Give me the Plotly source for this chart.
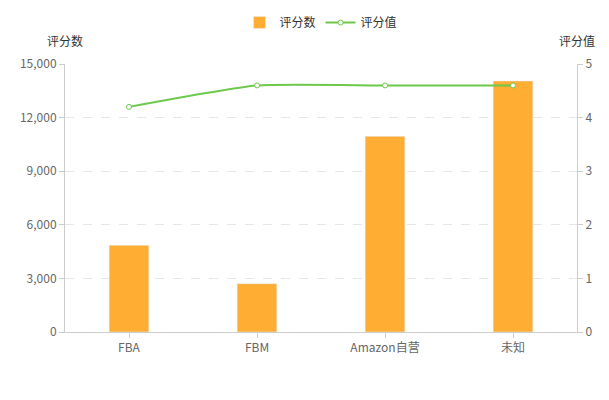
import plotly.graph_objects as go

categories = ["FBA", "FBM", "Amazon自营", "未知"]
counts = [4850, 2700, 10950, 14050]
scores = [4.2, 4.6, 4.6, 4.6]

fig = go.Figure()
fig.add_trace(go.Bar(x=categories, y=counts, name="评分数", marker_color="#ffad33", width=0.31))
fig.add_trace(go.Scatter(x=categories, y=scores, name="评分值", yaxis="y2", mode="lines+markers",
                         line=dict(color="#6dc84b", width=2, shape="spline", smoothing=0.5),
                         marker=dict(size=5, color="white", line=dict(color="#6dc84b", width=1))))
font = dict(family="Noto Sans CJK SC, Microsoft YaHei, sans-serif", size=12, color="#666")
fig.update_layout(
    width=609, height=400, margin=dict(l=57, r=40, t=56, b=76),
    plot_bgcolor="white", paper_bgcolor="white", font=font, bargap=0.5,
    showlegend=True,
    legend=dict(orientation="h", x=0.5, xanchor="center", y=1.0, yref="container", yanchor="top",
                font=dict(size=12, color="#333"), borderwidth=0, tracegroupgap=0,
                itemwidth=30, entrywidth=0),
    xaxis=dict(showline=True, linecolor="#ccc", ticks="outside", tickcolor="#ccc", showgrid=False),
    yaxis=dict(range=[0, 15000], tickvals=[0, 3000, 6000, 9000, 12000, 15000], tickformat=",",
               showline=True, linecolor="#ccc", ticks="outside", tickcolor="#ccc",
               gridcolor="#e6e6e6", griddash="dash", zeroline=False),
    yaxis2=dict(range=[0, 5], tickvals=[0, 1, 2, 3, 4, 5], overlaying="y", side="right",
                showline=True, linecolor="#ccc", ticks="outside", tickcolor="#ccc",
                showgrid=False, zeroline=False),
    annotations=[
        dict(text="评分数", x=0, xref="paper", xanchor="center", y=1.05, yref="paper", yanchor="bottom",
             showarrow=False, font=dict(size=12, color="#333")),
        dict(text="评分值", x=1, xref="paper", xanchor="center", y=1.05, yref="paper", yanchor="bottom",
             showarrow=False, font=dict(size=12, color="#333")),
    ],
)
fig.write_html("out.html")
